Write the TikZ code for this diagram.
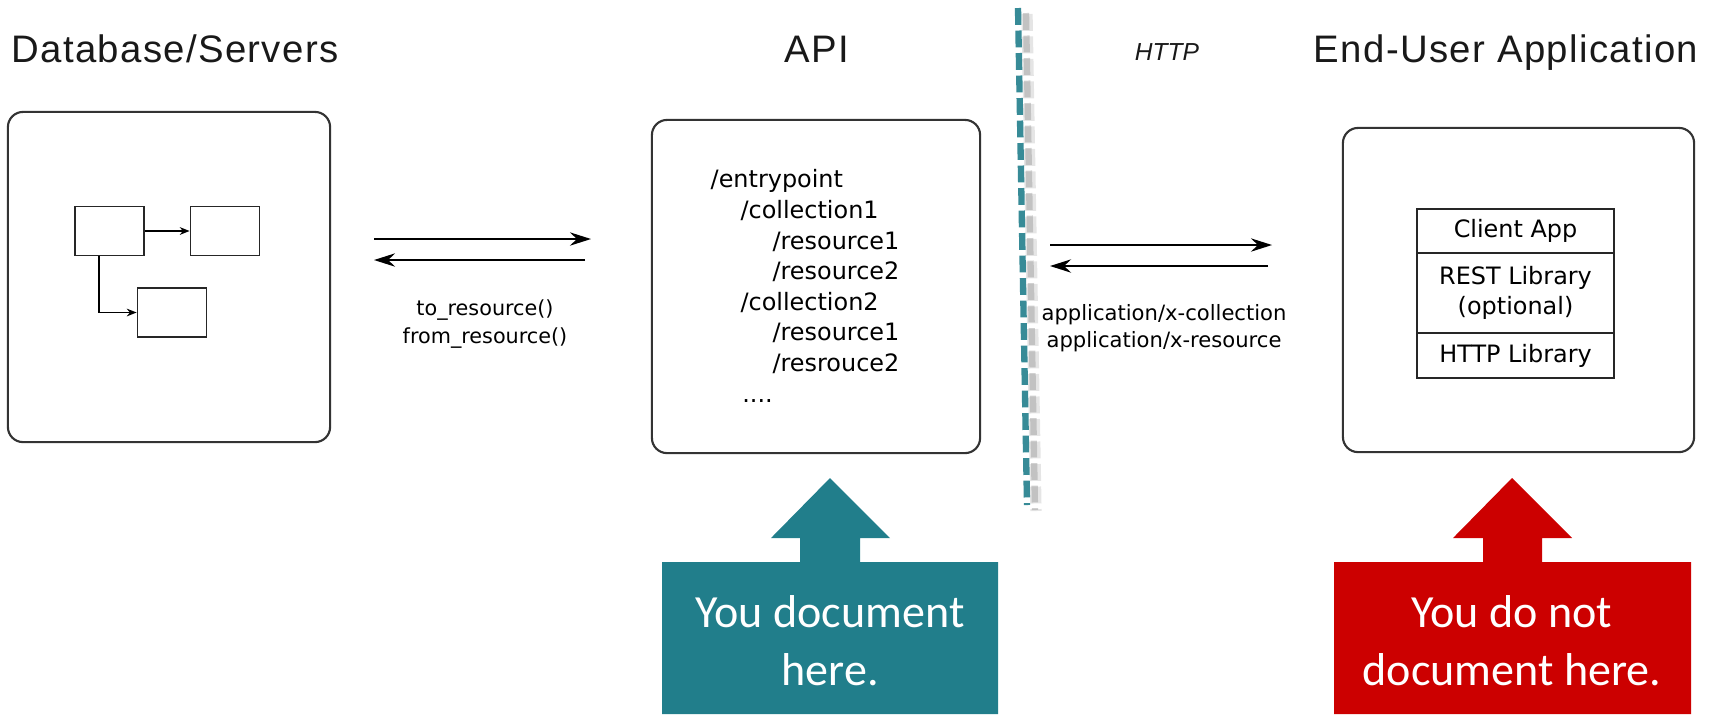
\documentclass[tikz,border=0pt]{standalone}
\usepackage{fontspec}
\setmainfont{Liberation Sans}
\newfontfamily\titlefont[LetterSpace=3.5]{Liberation Sans}
\newfontfamily\vera{DejaVu Sans}
\newfontfamily\calib{Carlito}
\usetikzlibrary{arrows.meta}
\definecolor{docteal}{RGB}{33,126,139}
\definecolor{docred}{RGB}{204,0,0}

\begin{document}
\begin{tikzpicture}[x=0.01cm,y=-0.01cm,
	title/.style={font=\titlefont\fontsize{10.9}{13}\selectfont,text=black!90,anchor=base},
	panel/.style={draw=black!80,line width=0.6pt,rounded corners=4.3pt},
	tbl/.style={draw=black!85,line width=0.5pt,minimum width=0.69cm,minimum height=0.49cm,inner sep=0pt},
	small/.style={font=\vera\fontsize{5.9}{8}\selectfont,align=center},
	link/.style={line width=0.55pt,-{Stealth[length=6pt,width=3.8pt,inset=2pt]}},
	tiny/.style={line width=0.45pt,-{Stealth[length=2.8pt,width=2.2pt]}},
	layer/.style={draw=black!85,line width=0.5pt,minimum width=1.97cm,font=\vera\fontsize{6.8}{8.5}\selectfont,align=center,inner sep=0pt},
	callout/.style={font=\calib\fontsize{13.1}{16.5}\selectfont,text=white,align=center}]
		\useasboundingbox (0,0) rectangle (1725,714);
		% titles
		\node[title] (dbtitle) at (175,62) {Database/Servers};
		\node[title] (apititle) at (817,62) {API};
		\node[title] (apptitle) at (1506,62) {End-User Application};
		\node[title,font=\itshape\fontsize{7}{8}\selectfont] (http) at (1167,60) {HTTP};
		% database / servers
		\begin{scope}
		\node[panel,minimum width=3.22cm,minimum height=3.30cm] (db) at (169,277) {};
		\node[tbl] (a) at (109.5,231) {};
		\node[tbl] (b) at (225,231) {};
		\node[tbl] (c) at (172,312.5) {};
		\draw[tiny] (a) -- (b);
		\draw[tiny] ([xshift=0.25cm]a.south west) |- (c.west);
		\end{scope}
		\coordinate (dbout) at (374,239); \coordinate (apiin) at (591,239);
		\coordinate (apiout) at (585,260); \coordinate (dbin) at (374,260);
		\draw[link] (dbout) -- (apiin);
		\draw[link] (apiout) -- (dbin);
		\node[small] (calls) at (485,324) {to\_resource()\\from\_resource()};
		% api
		\node[panel,minimum width=3.28cm,minimum height=3.33cm] (api) at (816,286.5) {};
		\node[anchor=north west,inner sep=0pt,align=left,font=\vera\fontsize{6.8}{8.7}\selectfont] (paths) at (710,169) {/entrypoint\\\hspace*{8.5pt}/collection1\\\hspace*{17.6pt}/resource1\\\hspace*{17.6pt}/resource2\\\hspace*{8.5pt}/collection2\\\hspace*{17.6pt}/resource1\\\hspace*{17.6pt}/resrouce2\\\hspace*{9pt}....};
		% http border
		%\draw[docteal,dashed] (1018,8) -- (1027,505);
		\draw[black!40,line width=3.2pt,opacity=0.25,dash pattern=on 4.8pt off 1.6pt] (1027,14) -- (1036,511);
		\draw[black!45,line width=1.8pt,opacity=0.4,dash pattern=on 4.8pt off 1.6pt] (1026,13) -- (1035,510);
		\draw[docteal!90!white,line width=1.8pt,dash pattern=on 4.8pt off 1.6pt] (1018,8) -- (1027,505);
		\coordinate (apiout2) at (1050,245); \coordinate (appin) at (1272,245);
		\coordinate (appout) at (1268,266); \coordinate (apiin2) at (1050,266);
		\draw[link] (apiout2) -- (appin);
		\draw[link] (appout) -- (apiin2);
		\node[small,font=\vera\fontsize{6}{7.7}\selectfont] (types) at (1164,328.5) {application/x-collection\\application/x-resource};
		% end-user application
		\node[panel,minimum width=3.51cm,minimum height=3.24cm] (app) at (1518.5,290) {};
		\node[layer,minimum height=0.44cm] (client) at (1515.5,231) {Client App};
		\node[layer,minimum height=0.80cm] (rest) at (1515.5,293) {REST Library\\(optional)};
		\node[layer,minimum height=0.45cm] (httplib) at (1515.5,355.5) {HTTP Library};
		% callouts
		\fill[docteal] (662,714) -- (662,562) -- (800,562) -- (800,538) -- (771,538) -- (830,478) -- (890,538) -- (860,538) -- (860,562) -- (998,562) -- (998,714) -- cycle;
		\node[callout] (youdoc) at (830,641) {You document\\here.};
		\fill[docred] (1334,714) -- (1334,562) -- (1483,562) -- (1483,538) -- (1453,538) -- (1512,478) -- (1572,538) -- (1542,538) -- (1542,562) -- (1691,562) -- (1691,714) -- cycle;
		\node[callout] (younot) at (1512,641) {You do not\\document here.};
\end{tikzpicture}
\end{document}
